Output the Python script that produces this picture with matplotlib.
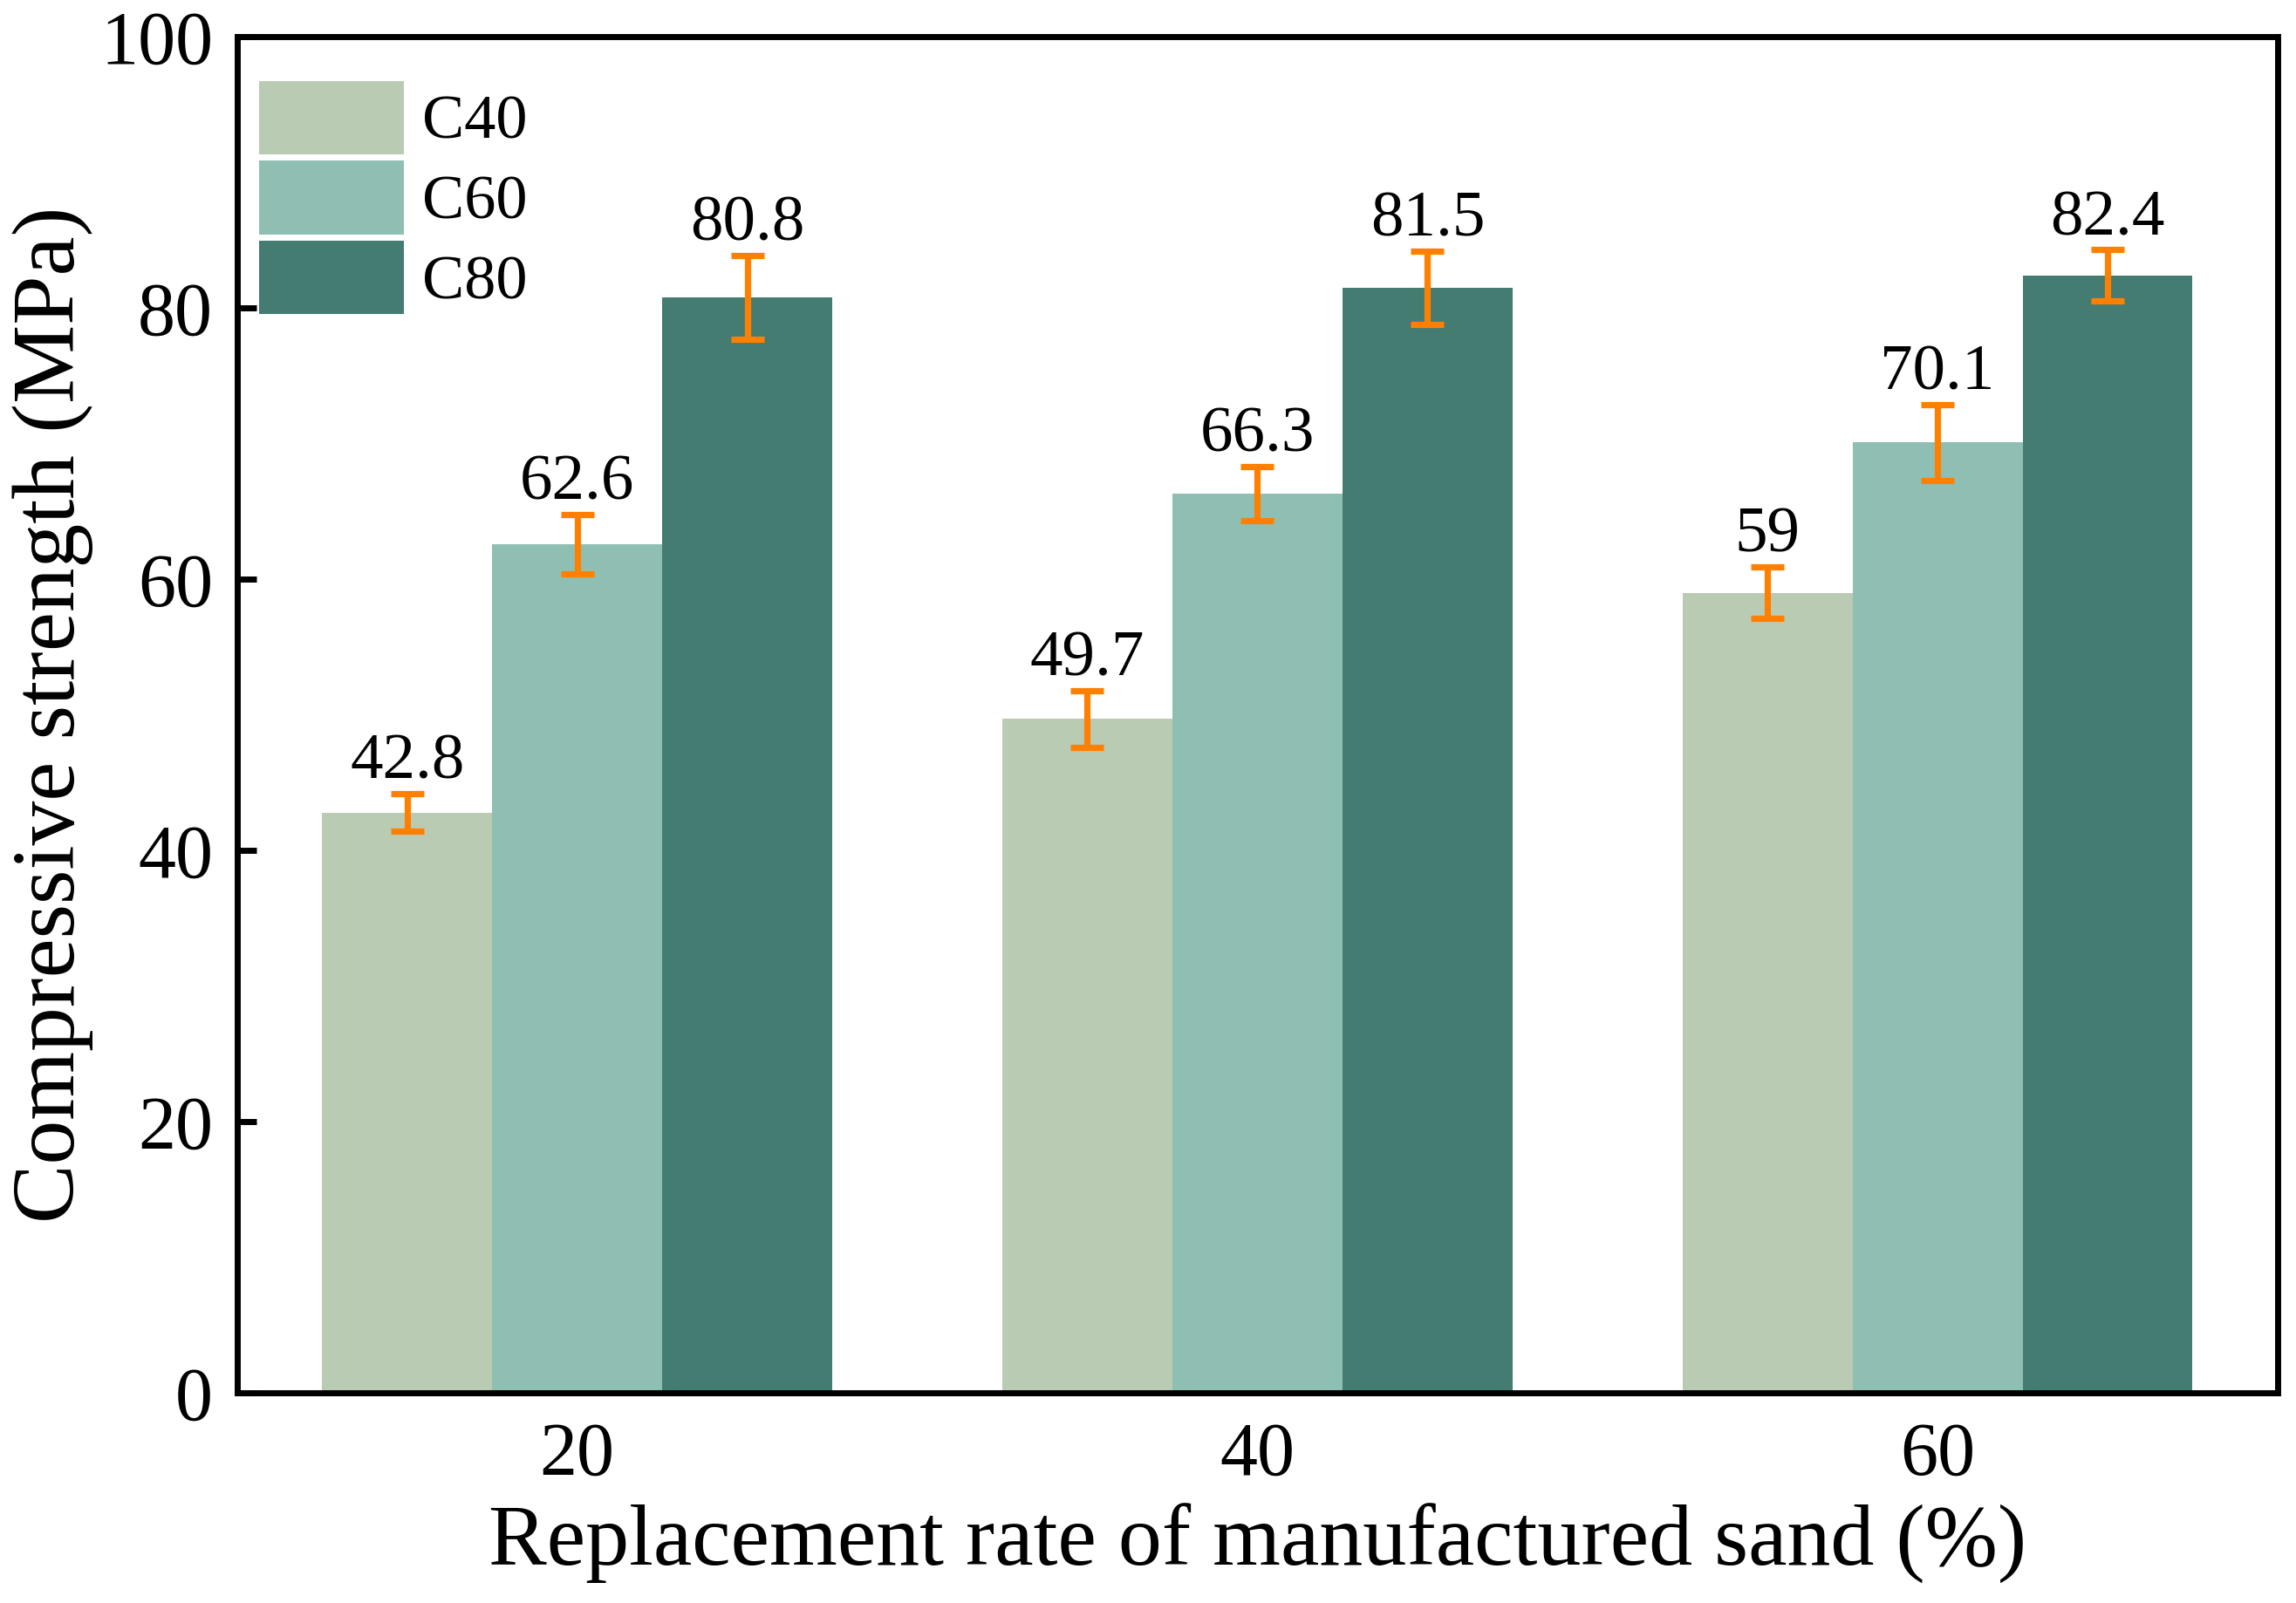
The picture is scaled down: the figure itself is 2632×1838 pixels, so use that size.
import matplotlib.pyplot as plt
import numpy as np

plt.rcParams['font.family'] = ['Liberation Serif', 'DejaVu Serif']

rates = ['20', '40', '60']
grades = ['C40', 'C60', 'C80']
strength = {
    'C40': [42.8, 49.7, 59.0],
    'C60': [62.6, 66.3, 70.1],
    'C80': [80.8, 81.5, 82.4],
}
errors = {
    'C40': [1.4, 2.1, 1.9],
    'C60': [2.2, 2.0, 2.8],
    'C80': [3.1, 2.7, 1.9],
}
labels = {
    'C40': ['42.8', '49.7', '59'],
    'C60': ['62.6', '66.3', '70.1'],
    'C80': ['80.8', '81.5', '82.4'],
}
colors = ['#BACBB3', '#8FBFB3', '#447C72']

fig = plt.figure(figsize=(13.16, 9.19), dpi=200)
ax = fig.add_axes([0.1033, 0.131, 0.8887, 0.846])

x = np.arange(len(rates))
w = 0.25
for i, g in enumerate(grades):
    pos = x + (i - 1) * w
    ax.bar(pos, strength[g], w, color=colors[i], label=g, zorder=2)
    ax.errorbar(pos, strength[g], yerr=errors[g], fmt='none', ecolor='#FF8000',
                elinewidth=2.6, capsize=7, capthick=2.6, zorder=3)
    for p, v, e, t in zip(pos, strength[g], errors[g], labels[g]):
        ax.annotate(t, (p, v + e), xytext=(0, 0.5), textcoords='offset points',
                    ha='center', va='bottom', fontsize=27)

ax.set_xlim(-0.5, 2.5)
ax.set_ylim(0, 100)
ax.set_xticks(x)
ax.set_xticklabels(rates)
ax.set_yticks([0, 20, 40, 60, 80, 100])
ax.tick_params(direction='in', length=8, width=2.5, labelsize=31, pad=10)
ax.tick_params(axis='x', width=1.5, pad=12)
for s in ax.spines.values():
    s.set_linewidth(2.5)

ax.set_xlabel('Replacement rate of manufactured sand (%)', fontsize=36, labelpad=5)
ax.set_ylabel('Compressive strength (MPa)', fontsize=36.5, labelpad=3)

ax.legend(loc='upper left', bbox_to_anchor=(-0.011, 1.0), frameon=False, fontsize=26,
          handlelength=2.3, handleheight=1.42, labelspacing=0.1, handletextpad=0.3,
          borderaxespad=0.3)

fig.savefig('out.png', dpi=200)
